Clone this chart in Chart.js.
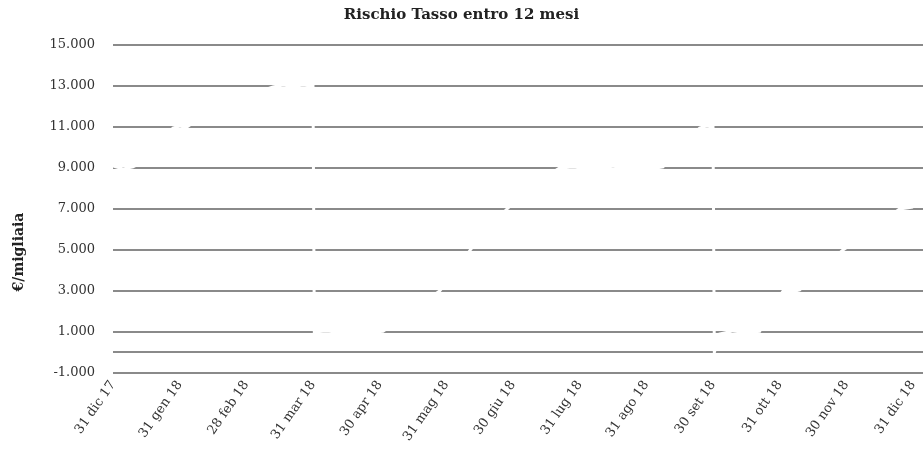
<!DOCTYPE html>
<html>
<head>
<meta charset="utf-8">
<script src="https://cdn.jsdelivr.net/npm/chart.js@4"></script>
<style>
  html, body { margin: 0; padding: 0; background: #ffffff; }
  #wrap { width: 923px; height: 449px; }
</style>
</head>
<body>
<div id="wrap"><canvas id="rischioGraph"></canvas></div>
<script>
// ------------ //
//  CHART DATA  //
// ------------ //

// Month-end tick labels (one per month, equally spaced)
var tickLabels = ["31 dic 17", "31 gen 18", "28 feb 18", "31 mar 18", "30 apr 18", "31 mag 18",
                  "30 giu 18", "31 lug 18", "31 ago 18", "30 set 18", "31 ott 18", "30 nov 18", "31 dic 18"];

// Position of each reading, in months since 31 dic 17
var monthPos = [0, 0.15, 0.3, 0.45, 0.7, 0.9, 1.0, 1.1, 1.2, 1.6, 2.0, 2.4, 2.55, 2.7, 2.85, 2.97, 3.0,
                3.02, 3.2, 3.4, 3.6, 3.8, 4.05, 4.3, 4.6, 4.9, 5.1, 5.36, 5.6, 5.91, 6.3, 6.7, 6.9, 7.1,
                7.3, 7.5, 7.7, 7.9, 8.1, 8.25, 8.5, 8.8, 8.9, 9.0,
                9.02, 9.1, 9.3, 9.5, 9.7, 9.85, 10.05, 10.2, 10.3, 10.6, 10.95, 11.3, 11.8, 12.0];

// Interest rate risk within 12 months (€/thousands)
var rischioValues = [9100, 8950, 9050, 9300, 10200, 10950, 11050, 10980, 11200, 12000, 12500, 12950, 13050, 12980, 13050, 13000, 13000,
                     1000, 1050, 980, 1020, 970, 1030, 1600, 2300, 3000, 3800, 5000, 6000, 7000, 8200, 9000, 9050, 8970,
                     9030, 8960, 9040, 9000, 8970, 9050, 10000, 10950, 11050, 11000,
                     0, 900, 1050, 970, 1030, 2000, 3000, 2970, 3050, 4000, 5000, 5800, 7000, 7100];

// Y axis gridline values (0 gets a line but no label)
var yTicks = [-1000, 0, 1000, 3000, 5000, 7000, 9000, 11000, 13000, 15000];

var textColor = "#333333";
var gridColor = "#8a8a8a";
var fontFamily = "'DejaVu Serif', 'Liberation Serif', serif";

// Formats numbers the Italian way (15.000)
function formatThousands(v)
{
  var s = Math.abs(v).toString().replace(/\B(?=(\d{3})+(?!\d))/g, ".");
  return (v < 0 ? "-" : "") + s;
}

// Draws the rotated y axis title to the left of the plot
var yTitlePlugin = {
  id: "yTitle",
  afterDraw: function (chart) {
    var ctx = chart.ctx;
    ctx.save();
    ctx.translate(19, 252);
    ctx.rotate(-Math.PI / 2);
    ctx.font = "bold 14px " + fontFamily;
    ctx.fillStyle = "#222222";
    ctx.textAlign = "center";
    ctx.textBaseline = "middle";
    ctx.fillText("€/migliaia", 0, 0);
    ctx.restore();
  }
};

var points = [];
for (var i = 0; i < monthPos.length; i++)
{
  points.push({ x: monthPos[i], y: rischioValues[i] });
}

const ctx = document.getElementById("rischioGraph");
new Chart(ctx, {
  type: "line",
  data: {
    datasets: [{
      label: "Rischio Tasso entro 12 mesi",
      data: points,
      borderColor: "#ffffff",
      borderWidth: 3,
      pointRadius: 0,
      tension: 0,
      fill: false
    }]
  },
  options: {
    responsive: true,
    maintainAspectRatio: false,
    animation: false,
    layout: { padding: { left: 0, right: 0, top: 0, bottom: 0 } },
    plugins: {
      legend: { display: false },
      tooltip: { enabled: false },
      title: {
        display: true,
        text: "Rischio Tasso entro 12 mesi",
        color: "#222222",
        font: { family: fontFamily, size: 15, weight: "bold" },
        padding: { top: 6, bottom: 21 }
      }
    },
    scales: {
      x: {
        type: "linear",
        min: 0,
        max: 12.15,
        afterBuildTicks: function (scale) {
          scale.ticks = tickLabels.map(function (t, idx) { return { value: idx }; });
        },
        afterFit: function (scale) {
          scale.paddingLeft = 0;
          scale.paddingRight = 0;
        },
        grid: { display: false, drawTicks: false },
        border: { display: false },
        ticks: {
          color: textColor,
          font: { family: fontFamily, size: 13 },
          maxRotation: 55,
          minRotation: 55,
          padding: 5,
          autoSkip: false,
          callback: function (value) { return tickLabels[value]; }
        }
      },
      y: {
        min: -1000,
        max: 15000,
        afterBuildTicks: function (scale) {
          scale.ticks = yTicks.map(function (v) { return { value: v }; });
        },
        afterFit: function (scale) { scale.width = 113; },
        grid: { color: gridColor, lineWidth: 2, drawTicks: false },
        border: { display: false },
        ticks: {
          color: textColor,
          font: { family: fontFamily, size: 13 },
          padding: 18,
          callback: function (value) { return value === 0 ? "" : formatThousands(value); }
        }
      }
    }
  },
  plugins: [yTitlePlugin]
});
</script>
</body>
</html>
